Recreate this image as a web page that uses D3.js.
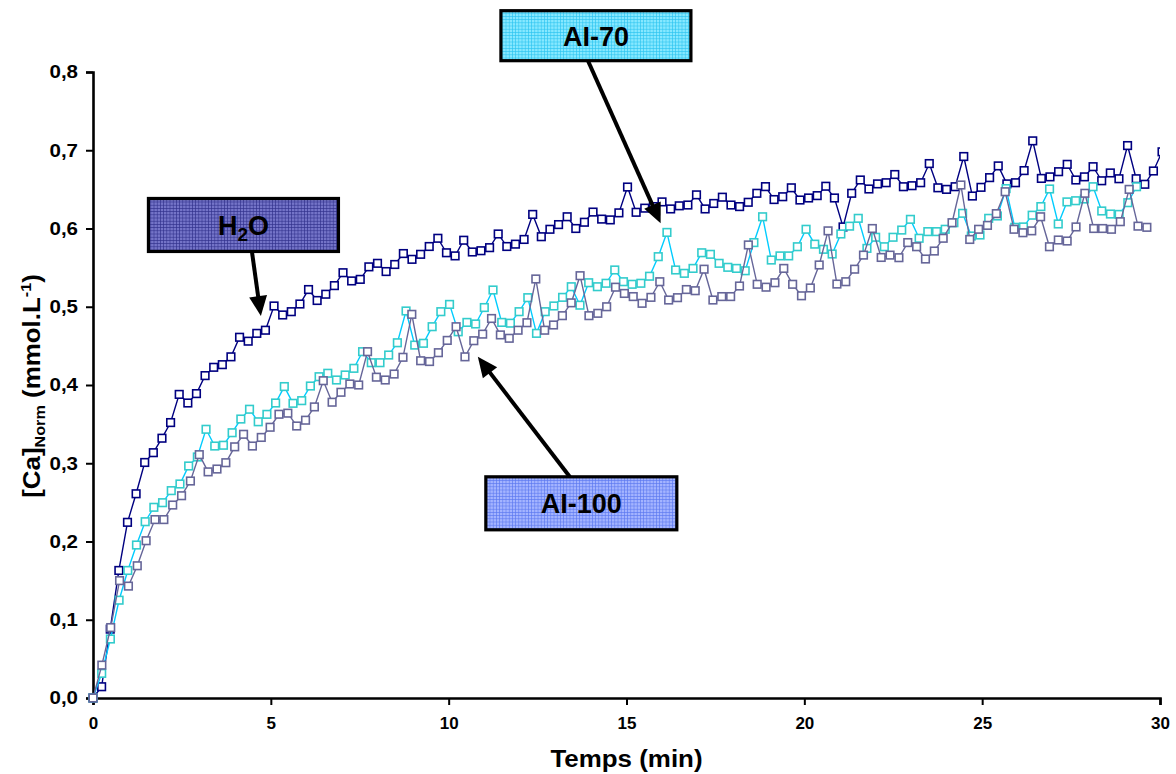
<!DOCTYPE html>
<html><head><meta charset="utf-8">
<script src="https://cdn.jsdelivr.net/npm/d3@7"></script>
<style>body{margin:0;background:#fff}svg{display:block}</style>
</head><body><svg id="chart" width="1176" height="774"></svg>
<script>
// ---------- DATA ----------
const xTicks = [0, 5, 10, 15, 20, 25, 30];
const yTicks = [0, 0.1, 0.2, 0.3, 0.4, 0.5, 0.6, 0.7, 0.8];
const xTitle = "Temps (min)";
const seriesNames = ["H2O", "AI-70", "AI-100"];
// sampling interval of each record (min)
const stepH2O = 0.2424, stepAI70 = 0.2445, stepAI100 = 0.2490;

const h2oValues = [0,0.0144,0.088,0.163,0.2245,0.261,0.301,0.3135,0.332,0.352,
0.388,0.377,0.389,0.412,0.4226,0.426,0.436,0.461,0.456,0.466,
0.470,0.501,0.4895,0.4937,0.5035,0.522,0.508,0.516,0.527,0.5435,
0.533,0.535,0.551,0.5555,0.545,0.554,0.568,0.5606,0.567,0.577,
0.5875,0.569,0.565,0.585,0.570,0.5716,0.5755,0.593,0.577,0.580,
0.586,0.618,0.5895,0.599,0.605,0.615,0.600,0.608,0.621,0.612,
0.611,0.620,0.653,0.6207,0.626,0.628,0.634,0.625,0.629,0.630,
0.643,0.625,0.632,0.640,0.630,0.628,0.6335,0.645,0.6535,0.637,
0.6406,0.652,0.6364,0.639,0.642,0.654,0.639,0.602,0.645,0.662,
0.6505,0.657,0.6585,0.669,0.6534,0.6547,0.6585,0.683,0.652,0.650,
0.6534,0.692,0.6415,0.6526,0.665,0.680,0.657,0.6585,0.674,0.712,
0.664,0.666,0.6726,0.682,0.662,0.666,0.679,0.661,0.671,0.6636,
0.706,0.6636,0.6565,0.6735,0.698];

const ai70Values = [0,0.0315,0.0754,0.125,0.163,0.1955,0.2253,0.2437,0.2496,0.265,
0.2735,0.2965,0.308,0.3434,0.322,0.323,0.339,0.3565,0.369,0.353,
0.3625,0.377,0.398,0.3766,0.380,0.3987,0.4106,0.415,0.4064,0.4128,
0.4213,0.4426,0.4285,0.4285,0.4383,0.454,0.4946,0.451,0.4533,0.4745,
0.4937,0.503,0.468,0.480,0.478,0.499,0.5214,0.480,0.479,0.4937,
0.5116,0.466,0.4937,0.501,0.512,0.5256,0.502,0.5307,0.5256,0.530,
0.547,0.532,0.5287,0.530,0.539,0.564,0.595,0.547,0.5427,0.549,
0.569,0.567,0.5555,0.5504,0.549,0.546,0.582,0.615,0.5597,0.565,
0.565,0.5767,0.599,0.580,0.5734,0.5674,0.593,0.603,0.613,0.5746,
0.5888,0.5767,0.5888,0.598,0.6117,0.5875,0.596,0.596,0.599,0.6074,
0.6194,0.5904,0.5917,0.613,0.616,0.651,0.6015,0.602,0.617,0.628,
0.6505,0.6058,0.634,0.6355,0.6377,0.6534,0.6224,0.6185,0.618,0.633,
0.6534];

const ai100Values = [0,0.042,0.090,0.150,0.143,0.169,0.201,0.228,0.228,0.2466,
0.2585,0.2773,0.311,0.289,0.2926,0.3007,0.321,0.337,0.322,0.333,
0.346,0.3626,0.364,0.3476,0.355,0.372,0.4055,0.378,0.3907,0.4013,
0.400,0.4426,0.410,0.4064,0.414,0.4354,0.4903,0.431,0.430,0.4413,
0.457,0.4745,0.436,0.4566,0.465,0.485,0.464,0.4597,0.470,0.4796,
0.5355,0.470,0.4767,0.4886,0.505,0.5397,0.4886,0.4916,0.500,0.525,
0.517,0.513,0.5044,0.512,0.532,0.5086,0.5116,0.522,0.5205,0.548,
0.5086,0.513,0.513,0.5265,0.579,0.5287,0.525,0.5307,0.549,0.5287,
0.514,0.524,0.5534,0.597,0.529,0.532,0.548,0.566,0.600,0.563,
0.566,0.5627,0.582,0.5767,0.561,0.5712,0.5875,0.6074,0.6556,0.586,
0.599,0.604,0.619,0.647,0.599,0.5946,0.597,0.615,0.5767,0.5853,
0.584,0.602,0.645,0.600,0.600,0.599,0.6087,0.650,0.603,0.6015];

// label boxes: centre (t, value) and arrow tail/tip (t, value)
const labelCentres = [[4.23,0.6045],[14.14,0.8464],[13.73,0.2488]];
const arrowTails  = [[4.47,0.570],[13.92,0.814],[13.41,0.2824]];
const arrowTips   = [[4.72,0.4882],[15.96,0.6066],[10.82,0.436]];

// ---------- STYLE ----------
const W = 1176, H = 774;
const plot = {left:93, right:1160, top:72, bottom:698};
const lineColors   = ["#000080", "#00CCFF", "#666699"];
const markerColors = ["#000080", "#33CCCC", "#666699"];
const boxBase  = ["#7474C8", "#86E8FF", "#A4B4FF"];
const boxGrid  = ["#30308C", "#2CC4F0", "#5A78F0"];
const boxSizes = [[190,53],[190,50],[191,53]];
const font = "'Liberation Sans', Arial, sans-serif";

const svg = d3.select("#chart");
const x = d3.scaleLinear().domain([0,30]).range([plot.left, plot.right]);
const y = d3.scaleLinear().domain([0,0.8]).range([plot.bottom, plot.top]);

const defs = svg.append("defs");
defs.append("clipPath").attr("id","clip").append("rect")
  .attr("x", 0).attr("y", 0).attr("width", plot.right).attr("height", H);
boxBase.forEach((b,i)=>{
  const p = defs.append("pattern").attr("id","pat"+i).attr("patternUnits","userSpaceOnUse")
    .attr("width",3.2).attr("height",3.2);
  p.append("rect").attr("width",3.2).attr("height",3.2).attr("fill",b);
  p.append("path").attr("d","M0,0.3H3.2M0.3,0V3.2").attr("stroke",boxGrid[i]).attr("stroke-width",0.7).attr("fill","none");
});

// axes
const fmt = d => d3.format(".1f")(d).replace(".", ",");
const yAxis = svg.append("g").attr("transform",`translate(${plot.left},0)`)
  .call(d3.axisLeft(y).tickValues(yTicks).tickFormat(fmt).tickSize(7).tickPadding(7));
const xAxis = svg.append("g").attr("transform",`translate(0,${plot.bottom})`)
  .call(d3.axisBottom(x).tickValues(xTicks).tickFormat(d3.format("d")).tickSize(7).tickPadding(12));
[yAxis, xAxis].forEach(g=>{
  g.select(".domain").attr("stroke","#000").attr("stroke-width",2.6);
  g.selectAll(".tick line").attr("stroke","#000").attr("stroke-width",2);
  g.selectAll(".tick text").attr("fill","#000").style("font-family",font)
    .style("font-weight","bold");
});
const yStretch = 1.14;
yAxis.selectAll(".tick text").style("font-size","18px")
  .attr("x", -15/yStretch).attr("transform",`scale(${yStretch},1)`);
xAxis.selectAll(".tick text").style("font-size","17px");

// axis titles
svg.append("text").attr("transform",`translate(${(plot.left+plot.right)/2},767) scale(1.08,1)`)
  .attr("text-anchor","middle").style("font-family",font).style("font-weight","bold")
  .style("font-size","24px").text(xTitle);
const yt = svg.append("text").attr("transform","translate(40,386) rotate(-90) scale(1.08,1)")
  .attr("text-anchor","middle").style("font-family",font).style("font-weight","bold")
  .style("font-size","24px");
yt.append("tspan").text("[Ca]");
yt.append("tspan").attr("dy",5).style("font-size","15px").text("Norm");
yt.append("tspan").attr("dy",-5).text(" (mmol.L");
yt.append("tspan").attr("dy",-9).style("font-size","15px").text("-1");
yt.append("tspan").attr("dy",9).text(")");

// series
const series = [
  {vals:h2oValues, step:stepH2O},
  {vals:ai70Values, step:stepAI70},
  {vals:ai100Values, step:stepAI100}
];
const plotG = svg.append("g").attr("clip-path","url(#clip)");
series.forEach((s,k)=>{
  const pts = s.vals.map((v,i)=>[i*s.step, v]);
  plotG.append("path").datum(pts)
    .attr("d", d3.line().x(d=>x(d[0])).y(d=>y(d[1])))
    .attr("fill","none").attr("stroke",lineColors[k]).attr("stroke-width",1.4);
  plotG.selectAll(null).data(pts).enter().append("rect")
    .attr("x",d=>x(d[0])-3.8).attr("y",d=>y(d[1])-3.8)
    .attr("width",7.6).attr("height",7.6)
    .attr("fill","#fff").attr("stroke",markerColors[k]).attr("stroke-width",1.6);
});

// arrows
const ann = svg.append("g");
arrowTails.forEach((t,i)=>{
  const x0=x(t[0]), y0=y(t[1]), x1=x(arrowTips[i][0]), y1=y(arrowTips[i][1]);
  const dx=x1-x0, dy=y1-y0, L=Math.hypot(dx,dy), ux=dx/L, uy=dy/L;
  const hl=20, hw=9;
  const bx=x1-ux*hl, by=y1-uy*hl;
  ann.append("line").attr("x1",x0).attr("y1",y0).attr("x2",bx+ux*2).attr("y2",by+uy*2)
    .attr("stroke","#000").attr("stroke-width",4);
  ann.append("path").attr("d",`M${x1},${y1}L${bx-uy*hw},${by+ux*hw}L${bx+uy*hw},${by-ux*hw}Z`)
    .attr("fill","#000");
});

// label boxes
labelCentres.forEach((c,i)=>{
  const cx=x(c[0]), cy=y(c[1]), [bw,bh]=boxSizes[i];
  ann.append("rect").attr("x",cx-bw/2).attr("y",cy-bh/2).attr("width",bw).attr("height",bh)
    .attr("fill",`url(#pat${i})`).attr("stroke","#000").attr("stroke-width",3.2);
  const t = ann.append("text").attr("x",cx).attr("y",cy+10).attr("text-anchor","middle")
    .style("font-family",font).style("font-weight","bold").style("font-size","27px").attr("fill","#000");
  if(i===0){
    t.append("tspan").text("H");
    t.append("tspan").attr("dy",6).style("font-size","19px").text("2");
    t.append("tspan").attr("dy",-6).text("O");
  } else t.text(seriesNames[i]);
});
</script></body></html>
